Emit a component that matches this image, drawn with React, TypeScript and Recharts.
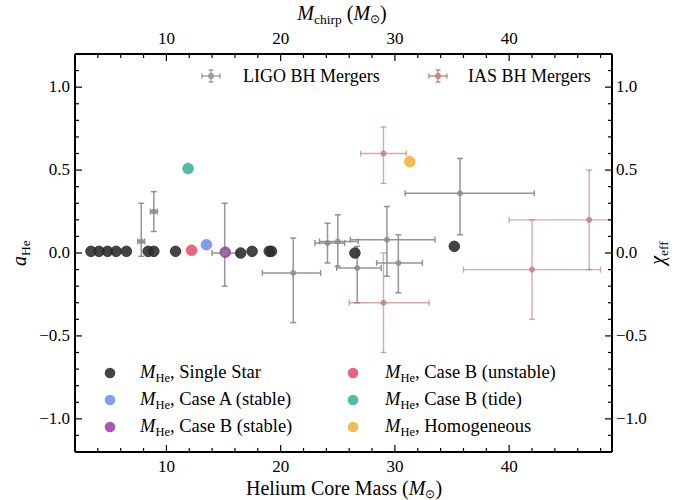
import { ScatterChart, Scatter, XAxis, YAxis, ErrorBar } from 'recharts';

const W = 697;
const H = 500;
const FONT = 'Liberation Serif, serif';

// axis ticks (major ones get a label)
const xTicks = [2, 4, 6, 8, 10, 12, 14, 16, 18, 20, 22, 24, 26, 28, 30, 32, 34, 36, 38, 40, 42, 44, 46, 48];
const xMajor = [10, 20, 30, 40];
const yTicks = [
  -1.2, -1.1, -1.0, -0.9, -0.8, -0.7, -0.6, -0.5, -0.4, -0.3, -0.2, -0.1, 0, 0.1, 0.2, 0.3, 0.4, 0.5, 0.6, 0.7, 0.8,
  0.9, 1.0, 1.1, 1.2
];
const yMajor = [-1.0, -0.5, 0, 0.5, 1.0];

// helium core masses and spins from the models
const singleMass = [3.4, 4.1, 4.85, 5.6, 6.5, 8.4, 8.9, 10.8, 16.5, 17.5, 19.0, 19.2, 26.5, 35.2];
const singleSpin = [0.01, 0.01, 0.01, 0.01, 0.01, 0.01, 0.01, 0.01, 0.0, 0.01, 0.01, 0.01, 0.0, 0.04];
const caseAMass = [13.5];
const caseASpin = [0.05];
const caseBMass = [15.15];
const caseBSpin = [0.005];
const caseBUnstableMass = [12.2];
const caseBUnstableSpin = [0.017];
const caseBTideMass = [11.9];
const caseBTideSpin = [0.51];
const homogMass = [31.3];
const homogSpin = [0.55];

// LIGO mergers: chirp mass and chi_eff with their ranges
const ligoMchirp = [7.8, 8.9, 15.1, 21.1, 24.1, 25.0, 26.7, 29.3, 30.3, 35.7];
const ligoMchirpLo = [7.5, 8.6, 14.0, 18.4, 23.0, 23.4, 24.9, 26.1, 28.4, 30.9];
const ligoMchirpHi = [8.1, 9.2, 16.3, 23.5, 25.6, 26.8, 28.8, 33.5, 32.4, 42.2];
const ligoChi = [0.07, 0.25, 0.0, -0.12, 0.06, 0.07, -0.09, 0.08, -0.06, 0.36];
const ligoChiLo = [-0.02, 0.13, -0.2, -0.42, -0.06, -0.08, -0.3, -0.14, -0.24, 0.11];
const ligoChiHi = [0.3, 0.37, 0.3, 0.09, 0.18, 0.23, 0.04, 0.28, 0.11, 0.57];

// IAS mergers (last one runs off the right edge of the plot)
const iasMchirp = [29.0, 29.0, 42.0, 47.0];
const iasMchirpLo = [27.0, 26.0, 36.0, 40.0];
const iasMchirpHi = [31.0, 33.0, 48.0, 49.0];
const iasChi = [0.6, -0.3, -0.1, 0.2];
const iasChiLo = [0.42, -0.6, -0.4, -0.1];
const iasChiHi = [0.76, 0.0, 0.2, 0.5];

const pts = (xs: number[], ys: number[]) => xs.map((x, i) => ({ x, y: ys[i] }));
const errPts = (xs: number[], xLo: number[], xHi: number[], ys: number[], yLo: number[], yHi: number[]) =>
  xs.map((x, i) => ({ x, y: ys[i], ex: [x - xLo[i], xHi[i] - x], ey: [ys[i] - yLo[i], yHi[i] - ys[i]] }));

const ligoData = errPts(ligoMchirp, ligoMchirpLo, ligoMchirpHi, ligoChi, ligoChiLo, ligoChiHi);
const iasData = errPts(iasMchirp, iasMchirpLo, iasMchirpHi, iasChi, iasChiLo, iasChiHi);

const models = [
  { name: 'Single Star', color: '#2a2a2a', data: pts(singleMass, singleSpin) },
  { name: 'Case A (stable)', color: '#6f8ff0', data: pts(caseAMass, caseASpin) },
  { name: 'Case B (stable)', color: '#9c3ea8', data: pts(caseBMass, caseBSpin) },
  { name: 'Case B (unstable)', color: '#e8506e', data: pts(caseBUnstableMass, caseBUnstableSpin) },
  { name: 'Case B (tide)', color: '#3bb39c', data: pts(caseBTideMass, caseBTideSpin) },
  { name: 'Homogeneous', color: '#f0b23c', data: pts(homogMass, homogSpin) }
];

const LIGO_COLOR = '#8a8a8a';
const IAS_COLOR = '#c07070';

const isMajorY = (v: number) => yMajor.some((m) => Math.abs(m - v) < 1e-6);
const fmtY = (v: number) => (Math.abs(v) < 1e-6 ? '0.0' : (v < 0 ? '\u2212' : '') + Math.abs(v).toFixed(1));

const BottomTick = ({ x, y, payload }: any) => {
  const major = xMajor.includes(payload.value);
  return (
    <g>
      <line x1={x} y1={y} x2={x} y2={y - (major ? 7 : 4)} stroke='#000' strokeWidth={1.2} />
      {major && (
        <text x={x} y={y + 20} textAnchor='middle' fontFamily={FONT} fontSize={17} fill='#000'>
          {payload.value}
        </text>
      )}
    </g>
  );
};

const TopTick = ({ x, y, payload }: any) => {
  const major = xMajor.includes(payload.value);
  return (
    <g>
      <line x1={x} y1={y} x2={x} y2={y + (major ? 7 : 4)} stroke='#000' strokeWidth={1.2} />
      {major && (
        <text x={x} y={y - 10} textAnchor='middle' fontFamily={FONT} fontSize={17} fill='#000'>
          {payload.value}
        </text>
      )}
    </g>
  );
};

const LeftTick = ({ x, y, payload }: any) => {
  const major = isMajorY(payload.value);
  return (
    <g>
      <line x1={x} y1={y} x2={x + (major ? 7 : 4)} y2={y} stroke='#000' strokeWidth={1.2} />
      {major && (
        <text x={x - 5} y={y + 5} textAnchor='end' fontFamily={FONT} fontSize={17} fill='#000'>
          {fmtY(payload.value)}
        </text>
      )}
    </g>
  );
};

const RightTick = ({ x, y, payload }: any) => {
  const major = isMajorY(payload.value);
  return (
    <g>
      <line x1={x} y1={y} x2={x - (major ? 7 : 4)} y2={y} stroke='#000' strokeWidth={1.2} />
      {major && (
        <text x={x + 4} y={y + 5} textAnchor='start' fontFamily={FONT} fontSize={17} fill='#000'>
          {fmtY(payload.value)}
        </text>
      )}
    </g>
  );
};

const dotShape = (color: string, r: number, opacity: number) => (props: any) =>
  <circle cx={props.cx} cy={props.cy} r={r} fill={color} fillOpacity={opacity} stroke={color} strokeWidth={0.8} />;

const MHe = ({ label }: { label: string }) => (
  <>
    <tspan fontStyle='italic'>M</tspan>
    <tspan fontSize={12.5} dy={4}>
      He
    </tspan>
    <tspan dy={-4}>, {label}</tspan>
  </>
);

const ErrSymbol = ({ x, y, color }: { x: number; y: number; color: string }) => (
  <g stroke={color} strokeWidth={1.4} opacity={0.85}>
    <line x1={x - 9} y1={y} x2={x + 9} y2={y} />
    <line x1={x} y1={y - 6} x2={x} y2={y + 6} />
    <line x1={x - 9} y1={y - 2.5} x2={x - 9} y2={y + 2.5} />
    <line x1={x + 9} y1={y - 2.5} x2={x + 9} y2={y + 2.5} />
    <line x1={x - 2.5} y1={y - 6} x2={x + 2.5} y2={y - 6} />
    <line x1={x - 2.5} y1={y + 6} x2={x + 2.5} y2={y + 6} />
    <circle cx={x} cy={y} r={2.2} fill={color} />
  </g>
);

export default function App() {
  const legendRows = [
    [models[0], models[3]],
    [models[1], models[4]],
    [models[2], models[5]]
  ];

  return (
    <div style={{ position: 'absolute', left: 0, top: 0, width: W, height: H, background: '#fff' }}>
      <ScatterChart width={W} height={H} margin={{ top: 53, right: 84, bottom: 47, left: 74 }}>
        <XAxis
          xAxisId='b'
          type='number'
          dataKey='x'
          domain={[2, 49]}
          ticks={xTicks}
          interval={0}
          height={1}
          tickSize={0}
          tickMargin={0}
          tickLine={false}
          tick={(p: any) => <BottomTick {...p} />}
          axisLine={{ stroke: '#000', strokeWidth: 2 }}
          allowDataOverflow
        />
        <XAxis
          xAxisId='t'
          orientation='top'
          type='number'
          dataKey='x'
          domain={[2, 49]}
          ticks={xTicks}
          interval={0}
          height={1}
          tickSize={0}
          tickMargin={0}
          tickLine={false}
          tick={(p: any) => <TopTick {...p} />}
          axisLine={{ stroke: '#000', strokeWidth: 2 }}
          allowDataOverflow
        />
        <YAxis
          yAxisId='l'
          type='number'
          dataKey='y'
          domain={[-1.2, 1.2]}
          ticks={yTicks}
          interval={0}
          width={1}
          tickSize={0}
          tickMargin={0}
          tickLine={false}
          tick={(p: any) => <LeftTick {...p} />}
          axisLine={{ stroke: '#000', strokeWidth: 2 }}
          allowDataOverflow
        />
        <YAxis
          yAxisId='r'
          orientation='right'
          type='number'
          dataKey='y'
          domain={[-1.2, 1.2]}
          ticks={yTicks}
          interval={0}
          width={1}
          tickSize={0}
          tickMargin={0}
          tickLine={false}
          tick={(p: any) => <RightTick {...p} />}
          axisLine={{ stroke: '#000', strokeWidth: 2 }}
          allowDataOverflow
        />

        {models.map((m) => (
          <Scatter
            key={m.name}
            xAxisId='b'
            yAxisId='l'
            data={m.data}
            shape={dotShape(m.color, 5.3, 0.88)}
            isAnimationActive={false}
          />
        ))}

        <Scatter
          xAxisId='t'
          yAxisId='r'
          data={ligoData}
          shape={dotShape(LIGO_COLOR, 2.5, 0.7)}
          isAnimationActive={false}>
          <ErrorBar dataKey='ex' direction='x' width={3} stroke={LIGO_COLOR} strokeOpacity={0.9} strokeWidth={1.5} />
          <ErrorBar dataKey='ey' direction='y' width={3} stroke={LIGO_COLOR} strokeOpacity={0.9} strokeWidth={1.5} />
        </Scatter>
        <Scatter
          xAxisId='t'
          yAxisId='r'
          data={iasData}
          shape={dotShape(IAS_COLOR, 2.5, 0.6)}
          isAnimationActive={false}>
          <ErrorBar dataKey='ex' direction='x' width={3} stroke={IAS_COLOR} strokeOpacity={0.6} strokeWidth={1.4} />
          <ErrorBar dataKey='ey' direction='y' width={3} stroke={IAS_COLOR} strokeOpacity={0.6} strokeWidth={1.4} />
        </Scatter>
      </ScatterChart>

      <svg
        width={W}
        height={H}
        style={{ position: 'absolute', left: 0, top: 0, pointerEvents: 'none' }}
        fontFamily={FONT}
        fill='#000'>
        {/* axis titles */}
        <text x={344} y={495} textAnchor='middle' fontSize={20}>
          Helium Core Mass (<tspan fontStyle='italic'>M</tspan>
          <tspan fontSize={12} dy={3}>
            ⊙
          </tspan>
          <tspan dy={-3}>)</tspan>
        </text>
        <text x={342} y={20} textAnchor='middle' fontSize={20}>
          <tspan fontStyle='italic'>M</tspan>
          <tspan fontSize={13.5} dy={4}>
            chirp
          </tspan>
          <tspan dy={-4}> (</tspan>
          <tspan fontStyle='italic'>M</tspan>
          <tspan fontSize={12} dy={3}>
            ⊙
          </tspan>
          <tspan dy={-3}>)</tspan>
        </text>
        <text x={26} y={253} textAnchor='middle' fontSize={20} transform='rotate(-90 26 253)'>
          <tspan fontStyle='italic'>a</tspan>
          <tspan fontSize={13.5} dy={4}>
            He
          </tspan>
        </text>
        <text x={664} y={253} textAnchor='middle' fontSize={20} transform='rotate(-90 664 253)'>
          <tspan fontStyle='italic'>χ</tspan>
          <tspan fontSize={13.5} dy={4}>
            eff
          </tspan>
        </text>

        {/* observation legend */}
        <ErrSymbol x={211} y={76} color={LIGO_COLOR} />
        <text x={243} y={82} fontSize={18}>
          LIGO BH Mergers
        </text>
        <ErrSymbol x={438} y={76} color={IAS_COLOR} />
        <text x={468} y={82} fontSize={18}>
          IAS BH Mergers
        </text>

        {/* model legend */}
        {legendRows.map((row, r) =>
          row.map((m, c) => (
            <g key={m.name}>
              <circle cx={c === 0 ? 110 : 353} cy={373 + r * 27} r={5.3} fill={m.color} fillOpacity={0.88} />
              <text x={c === 0 ? 140 : 385} y={378 + r * 27} fontSize={18.5}>
                <MHe label={m.name} />
              </text>
            </g>
          ))
        )}
      </svg>
    </div>
  );
}
